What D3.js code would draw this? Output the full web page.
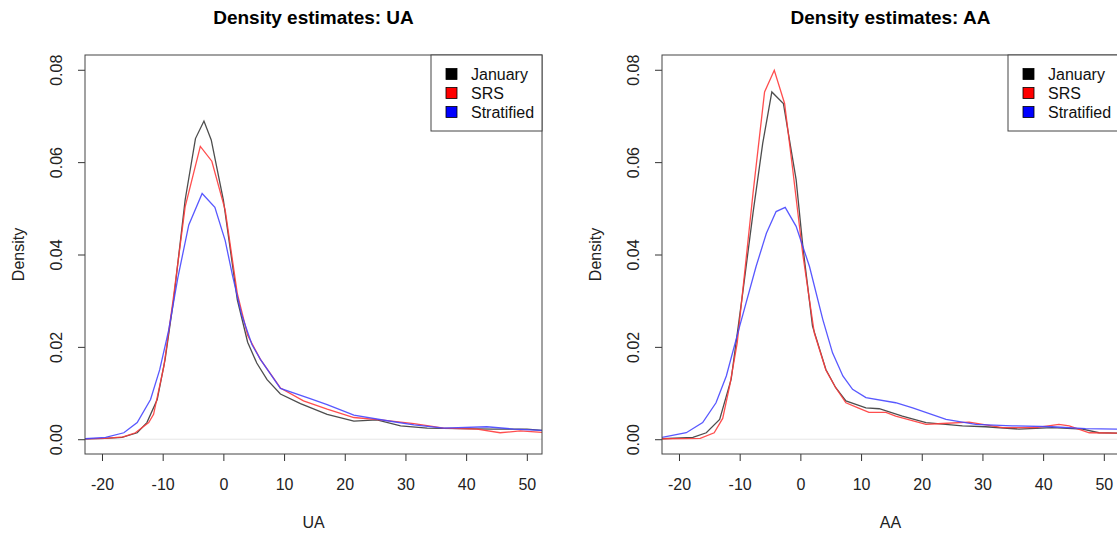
<!DOCTYPE html>
<html>
<head>
<meta charset="utf-8">
<script src="https://cdn.jsdelivr.net/npm/d3@7"></script>
<style>
  body { margin: 0; background: #fff; }
  svg { font-family: "Liberation Sans", Arial, sans-serif; }
</style>
</head>
<body>
<svg id="chart" width="1117" height="533"></svg>
<script>
// tick labels
var xTicks = [-20, -10, 0, 10, 20, 30, 40, 50];
var yTicks = [0, 0.02, 0.04, 0.06, 0.08];
var seriesNames = ["January", "SRS", "Stratified"];
var seriesColors = ["#3a3a3a", "#ff3b3b", "#4646ff"];
var legendColors = ["#000000", "#ff0000", "#0000ff"];

// UA panel
var uaJanuaryX = [-22.8, -19.5, -16.7, -14.2, -12.6, -10.9, -9.6, -8.2, -6.3, -4.6, -3.2, -2.0, 0, 2.3, 4.0, 5.5, 7.2, 9.4, 12.7, 17.1, 21.5, 25.3, 29.2, 33.6, 39.0, 44.5, 50.0, 52.5];
var uaJanuaryY = [0.0001, 0.0002, 0.0004, 0.0014, 0.0036, 0.0086, 0.0173, 0.0302, 0.0518, 0.0651, 0.0689, 0.0648, 0.0518, 0.0302, 0.0210, 0.0165, 0.0129, 0.0098, 0.0077, 0.0054, 0.0039, 0.0042, 0.0029, 0.0024, 0.0023, 0.0022, 0.0022, 0.0019];
var uaSrsX = [-22.8, -19.5, -16.5, -14.5, -12.3, -11.5, -9.8, -8.3, -6.3, -3.8, -1.9, 0.3, 2.3, 4.0, 6.1, 9.4, 13.2, 17.1, 21.5, 25.9, 31.4, 36.3, 41.8, 45.6, 48.9, 52.5];
var uaSrsY = [0.0001, 0.0002, 0.0005, 0.0014, 0.0036, 0.0054, 0.0158, 0.0300, 0.0503, 0.0634, 0.0602, 0.0496, 0.0315, 0.0225, 0.0173, 0.0111, 0.0083, 0.0065, 0.0047, 0.0042, 0.0034, 0.0024, 0.0022, 0.0014, 0.0018, 0.0015];
var uaStratX = [-22.8, -19.4, -16.4, -14.2, -12.0, -10.5, -9.0, -7.5, -5.7, -3.5, -1.4, 0.3, 1.5, 3.0, 4.7, 6.1, 9.4, 14.3, 17.1, 21.5, 27.0, 31.4, 36.3, 43.4, 47.8, 52.5];
var uaStratY = [0.0001, 0.0004, 0.0014, 0.0036, 0.0086, 0.0150, 0.0237, 0.0350, 0.0464, 0.0532, 0.0502, 0.0430, 0.0355, 0.0270, 0.0205, 0.0173, 0.0110, 0.0088, 0.0075, 0.0052, 0.0040, 0.0031, 0.0024, 0.0027, 0.0022, 0.0019];

// AA panel
var aaJanuaryX = [-22.8, -17.7, -15.5, -13.3, -11.4, -9.5, -7.8, -6.2, -4.7, -2.8, -0.7, 0.4, 2.0, 4.2, 5.8, 7.5, 10.8, 13.0, 16.8, 20.7, 26.7, 30.5, 36.0, 41.5, 46.5, 49.2, 52.5];
var aaJanuaryY = [0.0001, 0.0004, 0.0014, 0.0043, 0.0130, 0.0317, 0.0490, 0.0641, 0.0752, 0.0727, 0.0562, 0.0418, 0.0245, 0.0151, 0.0112, 0.0083, 0.0068, 0.0066, 0.0050, 0.0036, 0.0029, 0.0027, 0.0022, 0.0025, 0.0022, 0.0014, 0.0013];
var aaSrsX = [-22.8, -16.5, -14.2, -12.8, -11.6, -10.4, -7.8, -5.9, -4.3, -2.6, -1.25, 0.4, 2.3, 4.2, 5.8, 7.5, 9.5, 11.3, 14.1, 15.7, 20.7, 23.4, 27.8, 33.3, 38.8, 42.6, 44.3, 47.6, 52.5];
var aaSrsY = [0.0001, 0.0002, 0.0014, 0.0045, 0.0119, 0.0209, 0.0533, 0.0752, 0.0799, 0.0727, 0.0583, 0.0400, 0.0230, 0.0150, 0.0112, 0.0079, 0.0068, 0.0058, 0.0058, 0.0050, 0.0032, 0.0034, 0.0037, 0.0025, 0.0025, 0.0032, 0.0029, 0.0014, 0.0013];
var aaStratX = [-22.8, -18.8, -16.1, -13.9, -12.2, -10.0, -7.3, -5.6, -4.0, -2.5, -0.7, 1.5, 3.7, 5.3, 7.0, 8.6, 10.8, 15.7, 18.5, 24.0, 28.9, 34.9, 41.5, 47.0, 52.5];
var aaStratY = [0.0004, 0.0014, 0.0036, 0.0079, 0.0137, 0.0245, 0.0374, 0.0446, 0.0493, 0.0502, 0.0461, 0.0374, 0.0259, 0.0187, 0.0137, 0.0108, 0.0090, 0.0079, 0.0068, 0.0043, 0.0032, 0.0029, 0.0027, 0.0023, 0.0022];

var panels = [
    { title: "Density estimates: UA", xlab: "UA", left: 85,
      xs: [uaJanuaryX, uaSrsX, uaStratX], ys: [uaJanuaryY, uaSrsY, uaStratY] },
    { title: "Density estimates: AA", xlab: "AA", left: 662,
      xs: [aaJanuaryX, aaSrsX, aaStratX], ys: [aaJanuaryY, aaSrsY, aaStratY] }
];

var svg = d3.select("#chart");
var plotW = 457, plotTop = 55, plotBottom = 454;
var fontSize = 16;

panels.forEach(function (p, pi) {
    var right = p.left + plotW;
    var x = d3.scaleLinear().domain([-22.8, 52.5]).range([p.left, right]);
    var y = d3.scaleLinear().domain([-0.0032, 0.0832]).range([plotBottom, plotTop]);
    var g = svg.append("g");

    g.append("clipPath").attr("id", "clip" + pi)
        .append("rect")
        .attr("x", p.left).attr("y", plotTop)
        .attr("width", plotW).attr("height", plotBottom - plotTop);

    var plot = g.append("g").attr("clip-path", "url(#clip" + pi + ")");

    // faint zero line
    plot.append("line")
        .attr("x1", p.left).attr("x2", right)
        .attr("y1", y(0)).attr("y2", y(0))
        .attr("stroke", "#e6e6e6").attr("stroke-width", 1);

    var line = d3.line()
        .x(function (d) { return x(d[0]); })
        .y(function (d) { return y(d[1]); });

    p.xs.forEach(function (xv, si) {
        var pts = xv.map(function (v, i) { return [v, p.ys[si][i]]; });
        plot.append("path")
            .datum(pts)
            .attr("fill", "none")
            .attr("stroke", seriesColors[si])
            .attr("stroke-width", 1.3)
            .attr("stroke-opacity", 0.9)
            .attr("d", line);
    });

    // axes
    var xAxis = g.append("g")
        .attr("transform", "translate(0," + plotBottom + ")")
        .call(d3.axisBottom(x).tickValues(xTicks).tickSize(7)
            .tickFormat(function (d) { return String(d); }));
    xAxis.select(".domain").remove();
    xAxis.selectAll("line").attr("stroke", "#333");
    xAxis.selectAll("text")
        .attr("font-size", fontSize)
        .attr("fill", "#222")
        .attr("y", 30)
        .attr("dy", "0.35em");

    var yAxis = g.append("g")
        .attr("transform", "translate(" + p.left + ",0)")
        .call(d3.axisLeft(y).tickValues(yTicks).tickSize(7).tickFormat(d3.format(".2f")));
    yAxis.select(".domain").remove();
    yAxis.selectAll("line").attr("stroke", "#333");
    yAxis.selectAll("text")
        .attr("font-size", fontSize)
        .attr("fill", "#222")
        .attr("transform", "rotate(-90)")
        .attr("text-anchor", "middle")
        .attr("x", 0)
        .attr("y", -23)
        .attr("dy", null);

    // box
    g.append("rect")
        .attr("x", p.left).attr("y", plotTop)
        .attr("width", plotW).attr("height", plotBottom - plotTop)
        .attr("fill", "none")
        .attr("stroke", "#444")
        .attr("stroke-width", 1);

    // titles
    var cx = (p.left + right) / 2;
    g.append("text")
        .attr("x", cx).attr("y", 24)
        .attr("text-anchor", "middle")
        .attr("font-size", 19)
        .attr("font-weight", "bold")
        .text(p.title);

    g.append("text")
        .attr("x", cx).attr("y", 522)
        .attr("dy", "0.35em")
        .attr("text-anchor", "middle")
        .attr("font-size", fontSize)
        .attr("fill", "#222")
        .text(p.xlab);

    g.append("text")
        .attr("transform", "translate(" + (p.left - 67) + "," + ((plotTop + plotBottom) / 2) + ") rotate(-90)")
        .attr("dy", "0.35em")
        .attr("text-anchor", "middle")
        .attr("font-size", fontSize)
        .attr("fill", "#222")
        .text("Density");

    // legend
    var lg = g.append("g").attr("transform", "translate(" + (right - 111) + "," + plotTop + ")");
    lg.append("rect")
        .attr("width", 111).attr("height", 76)
        .attr("fill", "#fff")
        .attr("stroke", "#444");
    var rows = lg.selectAll("g.row").data(seriesNames).enter().append("g")
        .attr("class", "row")
        .attr("transform", function (d, i) { return "translate(0," + (19 + i * 19) + ")"; });
    rows.append("rect")
        .attr("x", 15).attr("y", -5.5)
        .attr("width", 11).attr("height", 11)
        .attr("fill", function (d, i) { return legendColors[i]; })
        .attr("stroke", "#000")
        .attr("stroke-width", 0.8);
    rows.append("text")
        .attr("x", 40)
        .attr("dy", "0.35em")
        .attr("font-size", fontSize)
        .attr("fill", "#111")
        .text(function (d) { return d; });
});
</script>
</body>
</html>
